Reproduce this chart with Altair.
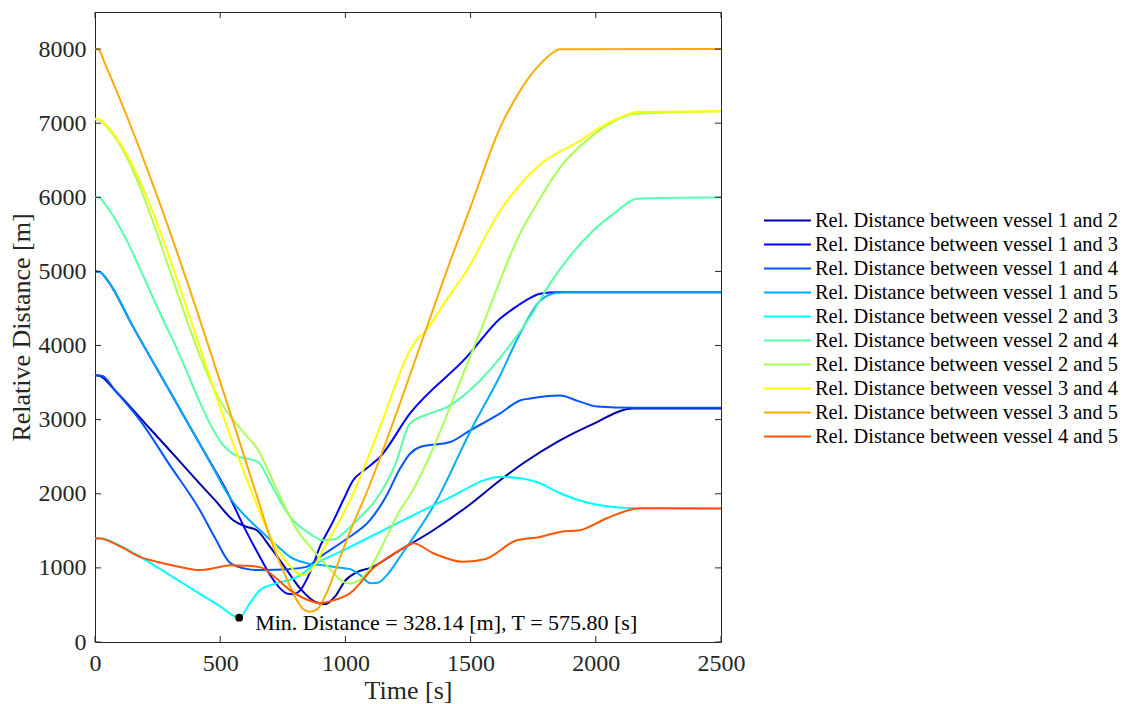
import altair as alt
import pandas as pd

# ---------------- data ----------------
PAIRS = [(1, 2), (1, 3), (1, 4), (1, 5), (2, 3), (2, 4), (2, 5), (3, 4), (3, 5), (4, 5)]
NAMES = [f"Rel. Distance between vessel {a} and {b}" for a, b in PAIRS]
COLORS = ["#0000aa", "#0000ff", "#0055ff", "#00aaff", "#00ffff",
          "#55ffaa", "#aaff55", "#ffff00", "#ffaa00", "#ff5500"]

T_12 = [0, 20, 80, 200, 300, 400, 480, 552, 600, 646, 700, 760, 820, 880, 920, 960, 1000, 1046, 1100, 1218, 1351, 1484, 1618, 1710, 1857, 1977, 2150, 2500]
V_12 = [3600, 3590, 3394, 2950, 2580, 2205, 1910, 1643, 1560, 1508, 1280, 1000, 720, 540, 510, 620, 830, 943, 1000, 1239, 1508, 1822, 2182, 2411, 2720, 2922, 3150, 3150]

T_13 = [0, 20, 50, 150, 300, 450, 530, 560, 600, 650, 700, 740, 770, 790, 820, 860, 900, 950, 991, 1031, 1080, 1138, 1258, 1484, 1618, 1680, 1737, 1777, 1850, 2500]
V_13 = [5000, 4990, 4880, 4265, 3375, 2485, 2010, 1800, 1520, 1200, 900, 720, 650, 645, 700, 950, 1300, 1620, 1912, 2182, 2330, 2496, 3084, 3843, 4364, 4520, 4640, 4700, 4720, 4720]

T_14 = [0, 30, 80, 180, 300, 419, 480, 539, 600, 646, 720, 779, 845, 899, 1000, 1100, 1160, 1220, 1258, 1298, 1418, 1498, 1618, 1697, 1737, 1857, 1930, 2004, 2150, 2500]
V_14 = [3600, 3590, 3394, 2990, 2380, 1778, 1400, 1070, 990, 970, 975, 985, 1014, 1149, 1380, 1650, 1950, 2350, 2540, 2630, 2698, 2855, 3084, 3259, 3286, 3326, 3250, 3178, 3160, 3160]

T_15 = [0, 20, 50, 150, 300, 450, 546, 600, 659, 720, 779, 850, 911, 960, 1019, 1060, 1099, 1130, 1170, 1218, 1365, 1500, 1618, 1697, 1777, 1840, 1880, 2500]
V_15 = [5000, 4990, 4880, 4265, 3375, 2485, 1912, 1700, 1508, 1320, 1149, 1060, 1035, 1010, 983, 900, 794, 800, 920, 1149, 1912, 2850, 3596, 4160, 4600, 4710, 4720, 4720]

T_23 = [0, 25, 100, 180, 300, 419, 500, 575.8, 619, 659, 726, 806, 886, 979, 1100, 1258, 1400, 1618, 1700, 1764, 1857, 1977, 2150, 2500]
V_23 = [1400, 1395, 1300, 1149, 900, 649, 480, 328, 525, 700, 794, 875, 1064, 1216, 1420, 1688, 1920, 2227, 2210, 2159, 2007, 1872, 1805, 1800]

T_24 = [0, 20, 40, 300, 532, 560, 652, 700, 779, 850, 911, 960, 1005, 1060, 1120, 1200, 1258, 1338, 1405, 1538, 1671, 1737, 1817, 1977, 2080, 2164, 2500]
V_24 = [6000, 5990, 5908, 4150, 2586, 2520, 2428, 2150, 1688, 1480, 1373, 1390, 1508, 1690, 1912, 2400, 2949, 3084, 3169, 3529, 4067, 4381, 4835, 5508, 5800, 5980, 6000]

T_25 = [0, 20, 60, 532, 600, 652, 700, 746, 800, 871, 940, 991, 1020, 1050, 1085, 1165, 1218, 1245, 1524, 1697, 1780, 1857, 1977, 2060, 2150, 2500]
V_25 = [7050, 7040, 6900, 3084, 2800, 2586, 2250, 1912, 1550, 1239, 980, 812, 790, 820, 929, 1418, 1778, 1912, 4067, 5508, 6000, 6401, 6805, 7000, 7124, 7160]

T_34 = [0, 20, 40, 572, 639, 700, 760, 800, 831, 870, 920, 979, 1019, 1138, 1258, 1290, 1311, 1400, 1484, 1618, 1777, 1937, 2017, 2100, 2164, 2500]
V_34 = [7060, 7050, 6990, 2496, 1912, 1420, 1100, 950, 902, 1000, 1300, 1650, 1912, 2900, 3933, 4100, 4161, 4600, 5010, 5818, 6440, 6761, 6940, 7080, 7151, 7160]

T_35 = [0, 15, 40, 652, 700, 760, 800, 830, 859, 890, 930, 980, 1032, 1072, 1325, 1405, 1500, 1618, 1697, 1740, 1777, 1820, 1857, 2500]
V_35 = [8000, 7990, 7800, 1912, 1400, 900, 600, 450, 408, 450, 700, 1150, 1602, 1912, 4247, 5010, 5870, 6940, 7434, 7650, 7794, 7930, 7996, 8000]

T_45 = [0, 25, 100, 180, 250, 330, 419, 480, 539, 600, 659, 720, 779, 840, 899, 950, 1019, 1112, 1218, 1271, 1351, 1471, 1560, 1684, 1777, 1857, 1937, 2044, 2177, 2500]
V_45 = [1400, 1395, 1290, 1149, 1080, 1020, 970, 1000, 1037, 1030, 1010, 870, 700, 580, 525, 560, 660, 997, 1239, 1333, 1198, 1082, 1120, 1373, 1418, 1485, 1508, 1670, 1805, 1800]

SERIES_T = [T_12, T_13, T_14, T_15, T_23, T_24, T_25, T_34, T_35, T_45]
SERIES_V = [V_12, V_13, V_14, V_15, V_23, V_24, V_25, V_34, V_35, V_45]

MIN_T = 575.8
MIN_V = 328.14
MIN_LABEL = "Min. Distance = 328.14 [m], T = 575.80 [s]"

X_TICKS = [0, 500, 1000, 1500, 2000, 2500]
Y_TICKS = [0, 1000, 2000, 3000, 4000, 5000, 6000, 7000, 8000]

# ---------------- build tables ----------------
rows = []
for name, ts, vs in zip(NAMES, SERIES_T, SERIES_V):
    for t, v in zip(ts, vs):
        rows.append({"series": name, "t": t, "v": v})
df = pd.DataFrame(rows)

FONT = "Liberation Serif"
INK = "#262626"

x_enc = alt.X("t:Q", scale=alt.Scale(domain=[0, 2500], nice=False, zero=False),
              axis=alt.Axis(values=X_TICKS, title="Time [s]", format="d",
                            domain=False, ticks=False, grid=False, labelFlush=False,
                            labelFont=FONT, labelFontSize=24, labelColor=INK,
                            labelPadding=9, titleFont=FONT, titleFontSize=26,
                            titleFontWeight="normal", titleColor=INK, titlePadding=2))
y_enc = alt.Y("v:Q", scale=alt.Scale(domain=[0, 8500], nice=False),
              axis=alt.Axis(values=Y_TICKS, title="Relative Distance [m]", format="d",
                            domain=False, ticks=False, grid=False, labelFlush=False,
                            labelFont=FONT, labelFontSize=24, labelColor=INK,
                            labelPadding=9, titleFont=FONT, titleFontSize=26,
                            titleFontWeight="normal", titleColor=INK, titlePadding=4))

lines = alt.Chart(df).mark_line(strokeWidth=2, interpolate="monotone").encode(
    x=x_enc, y=y_enc,
    color=alt.Color("series:N", sort=NAMES,
                    scale=alt.Scale(domain=NAMES, range=COLORS),
                    legend=alt.Legend(title=None, orient="none", legendX=668, legendY=198,
                                      symbolType="stroke", symbolSize=2200,
                                      symbolStrokeWidth=2, clipHeight=21,
                                      labelFont=FONT, labelFontSize=20.4,
                                      labelColor="#000000", labelLimit=500,
                                      rowPadding=3, labelOffset=3, padding=0)),
)

min_df = pd.DataFrame({"t": [MIN_T], "v": [MIN_V], "label": [MIN_LABEL]})
min_pt = alt.Chart(min_df).mark_point(filled=True, color="black", size=60, opacity=1).encode(
    x=x_enc, y=y_enc)
min_txt = alt.Chart(min_df).mark_text(align="left", baseline="middle", dx=16, dy=5,
                                      font=FONT, fontSize=22, color="black").encode(
    x=x_enc, y=y_enc, text="label:N")

xt = pd.DataFrame({"t": X_TICKS})
yt = pd.DataFrame({"v": Y_TICKS})
tick_style = dict(color=INK, strokeWidth=1)
xb = alt.Chart(xt).mark_rule(**tick_style).encode(x=x_enc, y=alt.value(630), y2=alt.value(624))
xtop = alt.Chart(xt).mark_rule(**tick_style).encode(x=x_enc, y=alt.value(0), y2=alt.value(6))
yl = alt.Chart(yt).mark_rule(**tick_style).encode(y=y_enc, x=alt.value(0), x2=alt.value(6))
yr = alt.Chart(yt).mark_rule(**tick_style).encode(y=y_enc, x=alt.value(626), x2=alt.value(620))

chart = alt.layer(lines, xb, xtop, yl, yr, min_pt, min_txt).properties(
    width=626, height=630,
    autosize=alt.AutoSizeParams(type="none"),
    padding={"left": 95, "top": 12, "right": 402, "bottom": 62},
    background="white",
).configure(font=FONT).configure_view(stroke=INK, strokeWidth=1).configure_legend(
    labelFont=FONT, labelFontSize=20.4, clipHeight=21
).configure_text(font=FONT)

chart.save("out.html", embed_options={"renderer": "svg", "actions": False})
